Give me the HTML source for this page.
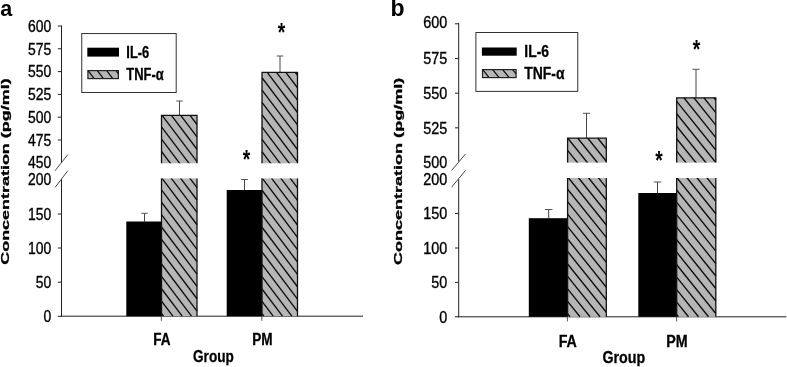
<!DOCTYPE html>
<html><head><meta charset="utf-8"><title>Concentration by group</title>
<style>
html,body{margin:0;padding:0;background:#fff}
svg{display:block}
text{font-family:"Liberation Sans",sans-serif;fill:#000}
.ln{stroke:#222;stroke-width:1;fill:none}
.sl{stroke:#333;stroke-width:0.9;fill:none}
.tx{stroke:#555;stroke-width:1;fill:none}
.er{stroke:#444;stroke-width:1;fill:none}
.cp{stroke:#555;stroke-width:1;fill:none}
.bd{stroke:#111;stroke-width:1.3;fill:none}
.lb{stroke:#333;stroke-width:1}
.tk{font-size:16px;stroke:#000;stroke-width:0.35}
.xl{font-size:17px;font-weight:bold;stroke:#000;stroke-width:0.3}
.lg{font-size:17px;font-weight:bold;stroke:#000;stroke-width:0.3}
.yl{font-size:11.3px;font-weight:bold;stroke:#000;stroke-width:0.3}
.st{font-size:25px;font-weight:bold}
.pn{font-weight:bold}
</style></head><body>
<svg width="787" height="367" viewBox="0 0 787 367">
<rect width="787" height="367" fill="#fff"/>
<path d="M61.5 25.5V162.1M61.5 179.3V316.7" class="ln"/>
<path d="M61 316.2H363" class="ln"/>
<path d="M55 170.75L67.8 154.6" class="sl"/>
<path d="M55 187.5L67.8 170.75" class="sl"/>
<path d="M57.8 26H61.5" class="ln"/>
<text class="tk" transform="translate(51.3 31.7) scale(0.87 1)" text-anchor="end">600</text>
<path d="M57.8 48.8H61.5" class="ln"/>
<text class="tk" transform="translate(51.3 54.5) scale(0.87 1)" text-anchor="end">575</text>
<path d="M57.8 71.6H61.5" class="ln"/>
<text class="tk" transform="translate(51.3 77.3) scale(0.87 1)" text-anchor="end">550</text>
<path d="M57.8 94.4H61.5" class="ln"/>
<text class="tk" transform="translate(51.3 100.1) scale(0.87 1)" text-anchor="end">525</text>
<path d="M57.8 117.2H61.5" class="ln"/>
<text class="tk" transform="translate(51.3 122.9) scale(0.87 1)" text-anchor="end">500</text>
<path d="M57.8 140H61.5" class="ln"/>
<text class="tk" transform="translate(51.3 145.7) scale(0.87 1)" text-anchor="end">475</text>
<text class="tk" transform="translate(51.3 167.8) scale(0.87 1)" text-anchor="end">450</text>
<text class="tk" transform="translate(51.3 184.9) scale(0.87 1)" text-anchor="end">200</text>
<path d="M57.8 214H61.5" class="ln"/>
<text class="tk" transform="translate(51.3 219.7) scale(0.87 1)" text-anchor="end">150</text>
<path d="M57.8 248H61.5" class="ln"/>
<text class="tk" transform="translate(51.3 253.7) scale(0.87 1)" text-anchor="end">100</text>
<path d="M57.8 282.2H61.5" class="ln"/>
<text class="tk" transform="translate(51.3 287.9) scale(0.87 1)" text-anchor="end">50</text>
<path d="M57.8 316.3H61.5" class="ln"/>
<text class="tk" transform="translate(51.3 322) scale(0.87 1)" text-anchor="end">0</text>
<path d="M161.3 316.2v4.6" class="tx"/>
<text class="xl" transform="translate(161.9 345) scale(0.8 1)" text-anchor="middle">FA</text>
<path d="M261.8 316.2v4.6" class="tx"/>
<text class="xl" transform="translate(262.4 345) scale(0.8 1)" text-anchor="middle">PM</text>
<path d="M144.5 221.5V213.3" class="er"/><path d="M141.25 213.3h6.5" class="cp"/>
<rect x="126.3" y="221.5" width="35.2" height="94.7" fill="#000"/>
<path d="M179.5 115.3V101" class="er"/><path d="M176.25 101h6.5" class="cp"/>
<rect x="161.5" y="115.3" width="35.5" height="55.55" fill="#b6b6b6"/><path d="M161.5 163.85L166.77 170.85M161.5 151.51L176.08 170.85M161.5 139.16L185.38 170.85M161.5 126.82L194.68 170.85M162.13 115.3L197 161.58M171.43 115.3L197 149.23M180.73 115.3L197 136.89M190.04 115.3L197 124.54" stroke="#111" stroke-width="1.4" fill="none"/>
<rect x="161.5" y="170.85" width="35.5" height="145.35" fill="#b6b6b6"/><path d="M161.5 313.4L163.61 316.2M161.5 301.06L172.91 316.2M161.5 288.71L182.21 316.2M161.5 276.37L191.52 316.2M161.5 264.02L197 311.13M161.5 251.68L197 298.79M161.5 239.33L197 286.44M161.5 226.98L197 274.09M161.5 214.64L197 261.75M161.5 202.29L197 249.4M161.5 189.95L197 237.06M161.5 177.6L197 224.71M165.72 170.85L197 212.36M175.02 170.85L197 200.02M184.32 170.85L197 187.67M193.63 170.85L197 175.33" stroke="#111" stroke-width="1.4" fill="none"/>
<path d="M161.5 316.2V115.3H197V316.2" class="bd"/>
<path d="M244.5 190V179.5" class="er"/><path d="M241.1 179.5h6.8" class="cp"/>
<rect x="226.7" y="190" width="35.3" height="126.2" fill="#000"/>
<path d="M280 72.3V56" class="er"/><path d="M276.75 56h6.5" class="cp"/>
<rect x="262" y="72.3" width="35.5" height="98.55" fill="#b6b6b6"/><path d="M262 164.13L267.06 170.85M262 151.79L276.36 170.85M262 139.44L285.67 170.85M262 127.1L294.97 170.85M262 114.75L297.5 161.86M262 102.4L297.5 149.51M262 90.06L297.5 137.17M262 77.71L297.5 124.82M267.22 72.3L297.5 112.48M276.53 72.3L297.5 100.13M285.83 72.3L297.5 87.78M295.13 72.3L297.5 75.44" stroke="#111" stroke-width="1.4" fill="none"/>
<rect x="262" y="170.85" width="35.5" height="145.35" fill="#b6b6b6"/><path d="M262 313.69L263.89 316.2M262 301.34L273.2 316.2M262 288.99L282.5 316.2M262 276.65L291.8 316.2M262 264.3L297.5 311.41M262 251.96L297.5 299.07M262 239.61L297.5 286.72M262 227.26L297.5 274.37M262 214.92L297.5 262.03M262 202.57L297.5 249.68M262 190.23L297.5 237.34M262 177.88L297.5 224.99M266.01 170.85L297.5 212.64M275.31 170.85L297.5 200.3M284.61 170.85L297.5 187.95M293.92 170.85L297.5 175.61" stroke="#111" stroke-width="1.4" fill="none"/>
<path d="M262 316.2V72.3H297.5V316.2" class="bd"/>
<rect x="124.3" y="163.3" width="175.2" height="15.1" fill="#fff"/>
<text class="st" transform="translate(281.4 40.6) scale(0.77 1)" text-anchor="middle">*</text>
<text class="st" transform="translate(246.5 168.4) scale(0.77 1)" text-anchor="middle">*</text>
<rect x="81.75" y="33.55" width="94.45" height="58.95" fill="#fff" class="lb"/>
<rect x="87.3" y="47.7" width="31.7" height="8.9" fill="#000"/>
<rect x="87.9" y="70.6" width="30.5" height="8" fill="#b6b6b6"/><path d="M88.1 70.6L94.13 78.6M97.4 70.6L103.43 78.6M106.71 70.6L112.74 78.6M116.01 70.6L118.4 73.77" stroke="#111" stroke-width="1.3" fill="none"/>
<rect x="87.9" y="70.6" width="30.5" height="8" fill="none" stroke="#222" stroke-width="1.2"/>
<text class="lg" transform="translate(126.3 57.6) scale(0.76 1)">IL-6</text>
<text class="lg" transform="translate(126.3 79.5) scale(0.76 1)">TNF-α</text>
<text class="yl" transform="translate(9.3 171.6) rotate(-90)" text-anchor="middle" textLength="186.4" lengthAdjust="spacingAndGlyphs">Concentration (pg/ml)</text>
<text class="xl" transform="translate(213.4 362) scale(0.8 1)" text-anchor="middle">Group</text>
<text class="pn" x="0.2" y="16" font-size="21.5">a</text>
<path d="M458.7 22.9V161.5M458.7 179.3V317.3" class="ln"/>
<path d="M458.2 316.8H786.3" class="ln"/>
<path d="M451.6 170.4L465.5 154" class="sl"/>
<path d="M451.6 187.2L465.5 170.4" class="sl"/>
<path d="M455 23.8H458.7" class="ln"/>
<text class="tk" transform="translate(447.3 28.4) scale(0.9 1)" text-anchor="end">600</text>
<path d="M455 58.5H458.7" class="ln"/>
<text class="tk" transform="translate(447.3 64.3) scale(0.9 1)" text-anchor="end">575</text>
<path d="M455 93.2H458.7" class="ln"/>
<text class="tk" transform="translate(447.3 99) scale(0.9 1)" text-anchor="end">550</text>
<path d="M455 127.85H458.7" class="ln"/>
<text class="tk" transform="translate(447.3 133.65) scale(0.9 1)" text-anchor="end">525</text>
<text class="tk" transform="translate(447.3 167.5) scale(0.9 1)" text-anchor="end">500</text>
<text class="tk" transform="translate(447.3 185.2) scale(0.9 1)" text-anchor="end">200</text>
<path d="M455 213.5H458.7" class="ln"/>
<text class="tk" transform="translate(447.3 219.3) scale(0.9 1)" text-anchor="end">150</text>
<path d="M455 248H458.7" class="ln"/>
<text class="tk" transform="translate(447.3 253.8) scale(0.9 1)" text-anchor="end">100</text>
<path d="M455 282.4H458.7" class="ln"/>
<text class="tk" transform="translate(447.3 288.2) scale(0.9 1)" text-anchor="end">50</text>
<path d="M455 316.8H458.7" class="ln"/>
<text class="tk" transform="translate(447.3 322.6) scale(0.9 1)" text-anchor="end">0</text>
<path d="M567.4 316.8v4.6" class="tx"/>
<text class="xl" transform="translate(567.8 346.6) scale(0.84 1)" text-anchor="middle">FA</text>
<path d="M676.6 316.8v4.6" class="tx"/>
<text class="xl" transform="translate(677 346.6) scale(0.84 1)" text-anchor="middle">PM</text>
<path d="M548.7 218.2V209.5" class="er"/><path d="M544.95 209.5h7.5" class="cp"/>
<rect x="528.8" y="218.2" width="38.7" height="98.6" fill="#000"/>
<path d="M586.5 138.2V113.3" class="er"/><path d="M582.9 113.3h7.2" class="cp"/>
<rect x="567.6" y="138.2" width="38.7" height="32.1" fill="#b6b6b6"/><path d="M567.6 162.87L573.56 170.3M567.6 150.41L583.56 170.3M567.8 138.2L593.56 170.3M577.8 138.2L603.56 170.3M587.8 138.2L606.3 161.25M597.8 138.2L606.3 148.79" stroke="#111" stroke-width="1.4" fill="none"/>
<rect x="567.6" y="170.3" width="38.7" height="146.5" fill="#b6b6b6"/><path d="M567.6 313.81L570 316.8M567.6 301.35L580 316.8M567.6 288.89L590 316.8M567.6 276.43L600 316.8M567.6 263.97L606.3 312.19M567.6 251.51L606.3 299.72M567.6 239.04L606.3 287.26M567.6 226.58L606.3 274.8M567.6 214.12L606.3 262.34M567.6 201.66L606.3 249.88M567.6 189.2L606.3 237.42M567.6 176.74L606.3 224.95M572.44 170.3L606.3 212.49M582.44 170.3L606.3 200.03M592.44 170.3L606.3 187.57M602.44 170.3L606.3 175.11" stroke="#111" stroke-width="1.4" fill="none"/>
<path d="M567.6 316.8V138.2H606.3V316.8" class="bd"/>
<path d="M657.5 193V182" class="er"/><path d="M653.75 182h7.5" class="cp"/>
<rect x="638.3" y="193" width="38.2" height="123.8" fill="#000"/>
<path d="M696 97.8V69.3" class="er"/><path d="M692.4 69.3h7.2" class="cp"/>
<rect x="676.7" y="97.8" width="39.1" height="72.5" fill="#b6b6b6"/><path d="M676.7 163.63L682.06 170.3M676.7 151.16L692.06 170.3M676.7 138.7L702.06 170.3M676.7 126.24L712.06 170.3M676.7 113.78L715.8 162.5M676.7 101.32L715.8 150.04M683.88 97.8L715.8 137.57M693.88 97.8L715.8 125.11M703.88 97.8L715.8 112.65M713.88 97.8L715.8 100.19" stroke="#111" stroke-width="1.4" fill="none"/>
<rect x="676.7" y="170.3" width="39.1" height="146.5" fill="#b6b6b6"/><path d="M676.7 314.57L678.49 316.8M676.7 302.1L688.49 316.8M676.7 289.64L698.5 316.8M676.7 277.18L708.5 316.8M676.7 264.72L715.8 313.44M676.7 252.26L715.8 300.98M676.7 239.8L715.8 288.51M676.7 227.33L715.8 276.05M676.7 214.87L715.8 263.59M676.7 202.41L715.8 251.13M676.7 189.95L715.8 238.67M676.7 177.49L715.8 226.21M680.93 170.3L715.8 213.74M690.93 170.3L715.8 201.28M700.94 170.3L715.8 188.82M710.94 170.3L715.8 176.36" stroke="#111" stroke-width="1.4" fill="none"/>
<path d="M676.7 316.8V97.8H715.8V316.8" class="bd"/>
<rect x="526.8" y="162.6" width="191" height="15.4" fill="#fff"/>
<text class="st" transform="translate(696.5 57.9) scale(0.77 1)" text-anchor="middle">*</text>
<text class="st" transform="translate(659.1 169) scale(0.77 1)" text-anchor="middle">*</text>
<rect x="475.9" y="32.5" width="101.85" height="58.9" fill="#fff" class="lb"/>
<rect x="481.9" y="47.5" width="34.8" height="8.2" fill="#000"/>
<rect x="482.5" y="69.6" width="33.6" height="8" fill="#b6b6b6"/><path d="M482.7 69.6L489.12 77.6M492.7 69.6L499.12 77.6M502.7 69.6L509.12 77.6M512.7 69.6L516.1 73.83" stroke="#111" stroke-width="1.3" fill="none"/>
<rect x="482.5" y="69.6" width="33.6" height="8" fill="none" stroke="#222" stroke-width="1.2"/>
<text class="lg" transform="translate(524.3 57.1) scale(0.82 1)">IL-6</text>
<text class="lg" transform="translate(524.3 79.2) scale(0.82 1)">TNF-α</text>
<text class="yl" transform="translate(402.3 171.45) rotate(-90)" text-anchor="middle" textLength="187.3" lengthAdjust="spacingAndGlyphs">Concentration (pg/ml)</text>
<text class="xl" transform="translate(623.8 363) scale(0.84 1)" text-anchor="middle">Group</text>
<text class="pn" x="390.6" y="16" font-size="23">b</text>
</svg>
</body></html>
